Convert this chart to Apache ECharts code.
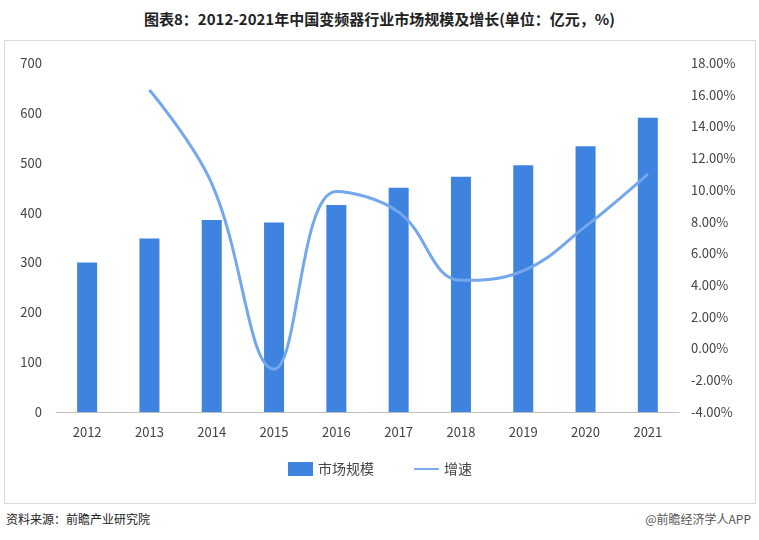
<!DOCTYPE html>
<html lang="zh" style="height: 100%">
<head>
  <meta charset="utf-8">
</head>
<body style="height: 100%; margin: 0; background: #fff">
  <div id="container" style="position:absolute; left:4px; top:40px; width:752px; height:464px; border:1px solid #d9d9d9; box-sizing:border-box"></div>
  <div style="position:absolute; left:0; top:8px; width:759px; text-align:center; font:bold 15px 'Noto Sans CJK SC'; color:#222">图表8：2012-2021年中国变频器行业市场规模及增长(单位：亿元，%)</div>
  <div style="position:absolute; left:6px; top:510px; font:12px 'Noto Sans CJK SC'; color:#222">资料来源：前瞻产业研究院</div>
  <div style="position:absolute; right:8px; top:510px; font:12px 'Noto Sans CJK SC'; color:#555">@前瞻经济学人APP</div>

  <script src="https://cdn.jsdelivr.net/npm/echarts@6/dist/echarts.min.js"></script>
  <script>
    var years = ['2012', '2013', '2014', '2015', '2016', '2017', '2018', '2019', '2020', '2021'];
    var marketSize = [300, 348, 385, 380, 415, 450, 472, 495, 533, 590];
    var growth = [null, 16.3, 10.4, -1.3, 9.9, 8.6, 4.3, 4.9, 7.7, 11.0];

    var myChart = echarts.init(document.getElementById('container'));
    var font = "'Noto Sans CJK SC', sans-serif";
    var option = {
      textStyle: { fontFamily: font },
      grid: { left: 51, right: 76, top: 22, bottom: 91 },
      legend: {
        bottom: 22,
        itemGap: 40,
        textStyle: { fontSize: 14, color: '#444' },
        data: [
          { name: '市场规模', icon: 'rect', itemWidth: 40, itemHeight: 12 },
          { name: '增速', icon: 'path://M0,0 L40,0 L40,3 L0,3 Z', itemWidth: 40, itemHeight: 3 }
        ]
      },
      xAxis: {
        type: 'category',
        data: years,
        axisLine: { lineStyle: { color: '#bfbfbf' } },
        axisTick: { show: false },
        axisLabel: { color: '#444', fontSize: 13, margin: 14 }
      },
      yAxis: [
        {
          type: 'value', min: 0, max: 700, interval: 100,
          splitLine: { show: false },
          axisLabel: { color: '#444', fontSize: 13, margin: 14 }
        },
        {
          type: 'value', min: -4, max: 18, interval: 2,
          splitLine: { show: false },
          axisLabel: { color: '#444', fontSize: 13, margin: 12, formatter: function (v) { return v.toFixed(2) + '%'; } }
        }
      ],
      series: [
        {
          name: '市场规模', type: 'bar', data: marketSize, barWidth: 20,
          itemStyle: { color: '#3f83e0' }
        },
        {
          name: '增速', type: 'line', yAxisIndex: 1, data: growth, smooth: 0.4,
          smoothMonotone: 'none',
          showSymbol: false,
          lineStyle: { width: 3, color: '#74a7ec' },
          itemStyle: { color: '#74a7ec' }
        }
      ]
    };
    myChart.setOption(option);
    window.addEventListener('resize', myChart.resize);
  </script>
</body>
</html>
